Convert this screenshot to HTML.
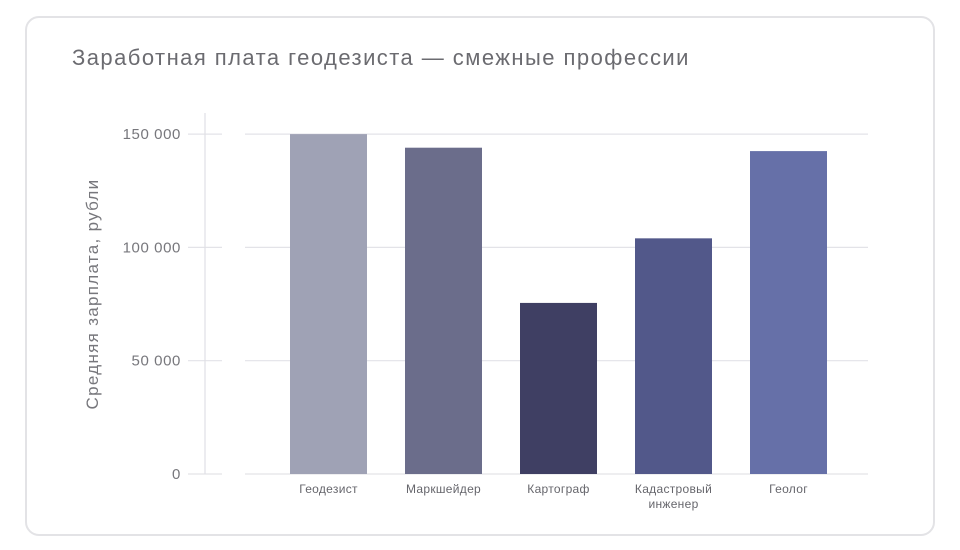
<!DOCTYPE html>
<html><head><meta charset="utf-8"><style>
body{margin:0;background:#fff;width:960px;height:550px;overflow:hidden;font-family:"Liberation Sans","DejaVu Sans",sans-serif}
#card{position:absolute;left:25px;top:16px;width:910px;height:520px;border:2px solid #e3e3e6;border-radius:14px;box-sizing:border-box}
#title{position:absolute;left:72px;top:45px;font-size:22px;color:#6b6b70;letter-spacing:1.45px}
svg{position:absolute;left:0;top:0}
</style></head><body>
<div id="card"></div>
<div id="title">Заработная плата геодезиста — смежные профессии</div>
<svg id="chart" width="960" height="550"></svg>
<script>
const categories=["Геодезист","Маркшейдер","Картограф","Кадастровый инженер","Геолог"];
const values=[150000,144000,75500,104000,142500];
const colors=["#9fa2b5","#6b6d8b","#3f3f63","#52588a","#6670a8"];
const ticks=[0,50000,100000,150000];
const tickLabels=["0","50 000","100 000","150 000"];
const NS="http://www.w3.org/2000/svg";
const svg=document.getElementById('chart');
const y0=474,pxPer=113.3/50000;
function y(v){return y0-v*pxPer;}
function x(i){return 271+i*115;}
function mk(t,a,p){const e=document.createElementNS(NS,t);for(const k in a)e.setAttribute(k,a[k]);(p||svg).appendChild(e);return e;}
ticks.forEach((t,i)=>{
  const g=mk('g',{});
  
  
  mk('line',{x1:188,x2:222,y1:y(t),y2:y(t),stroke:'#e3e3e8','stroke-width':1.2},g);
  mk('line',{x1:245,x2:868,y1:y(t),y2:y(t),stroke:'#e3e3e8','stroke-width':1.2},g);
  const tx=mk('text',{x:181,y:y(t)+5,'text-anchor':'end','font-size':15,'letter-spacing':0.6,fill:'#77777c'});
  tx.textContent=tickLabels[i];
  
  
});
const ax=mk('line',{x1:205,x2:205,y1:113,y2:474,stroke:'#e0e0e5','stroke-width':1.2});


const yt=mk('text',{x:0,y:0,transform:'translate(98,294) rotate(-90)','text-anchor':'middle','font-size':17,'letter-spacing':1.3,fill:'#77777c'});
yt.textContent='Средняя зарплата, рубли';


categories.forEach((c,i)=>{
  const b=mk('rect',{x:x(i)+19,y:y(values[i]),width:77,height:y0-y(values[i]),fill:colors[i]});
  
  
  const words=c.split(' ');
  const t=mk('text',{x:x(i)+57.5,y:493,'text-anchor':'middle','font-size':12,'letter-spacing':0.3,fill:'#66666c'});
  
  
  words.forEach((w,j)=>{const s=mk('tspan',{x:x(i)+57.5,dy:j?15:0},t);s.textContent=w;});
});
</script>
</body></html>
